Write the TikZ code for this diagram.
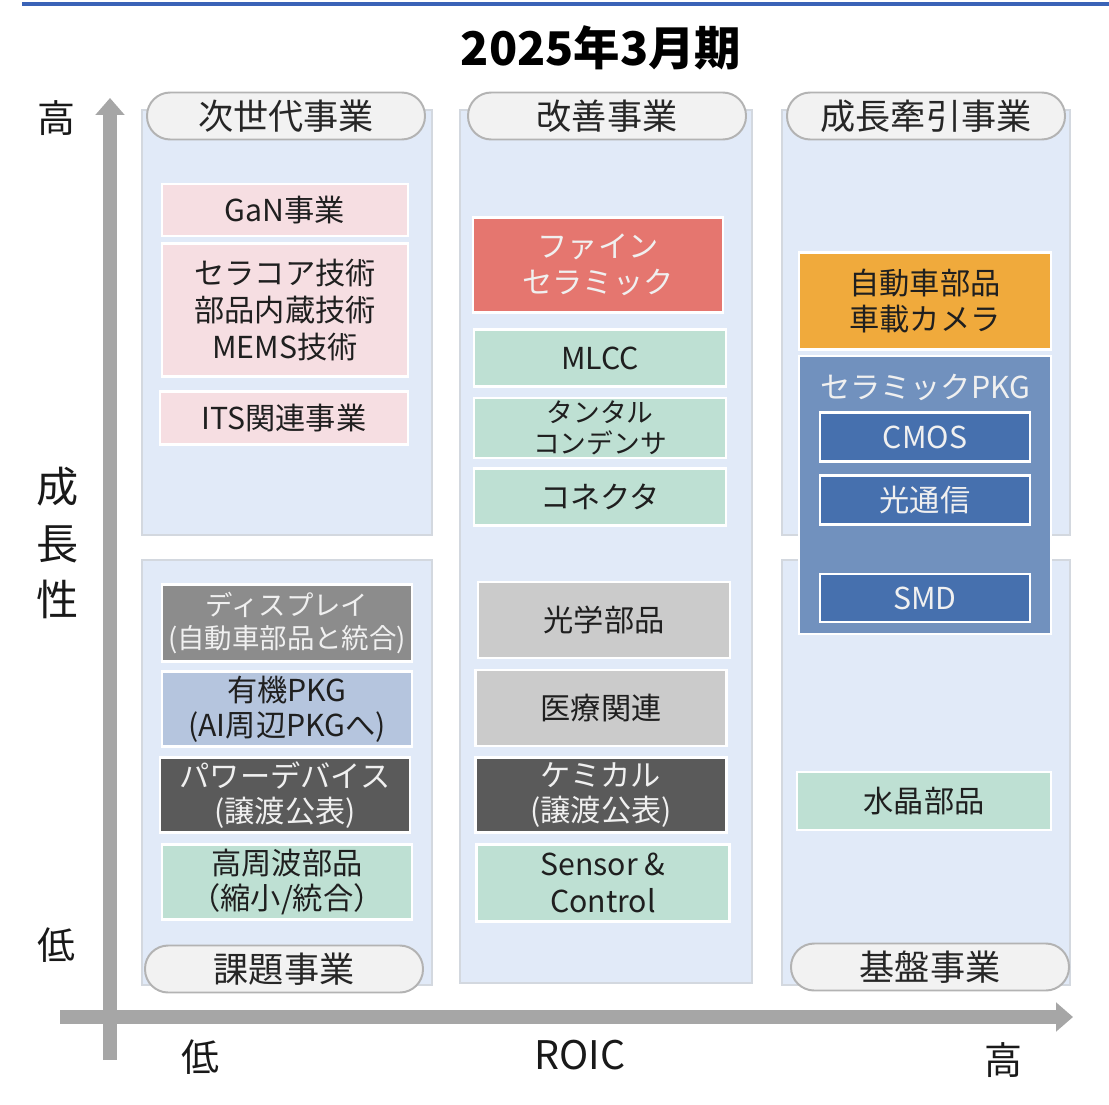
\documentclass[tikz,border=0pt]{standalone}
\usepackage{fontspec}
\newfontfamily\jpfont{Noto Sans CJK JP}
\usepackage{tikz}
\usetikzlibrary{arrows.meta}
\definecolor{panelblue}{HTML}{E1EAF8}
\definecolor{panelline}{HTML}{D3D8DF}
\definecolor{pillgray}{HTML}{F2F2F2}
\definecolor{pillline}{HTML}{B3B3B3}
\definecolor{axisgray}{HTML}{A6A6A6}
\definecolor{topblue}{HTML}{3A63B7}
\definecolor{pinkbox}{HTML}{F6DEE2}
\definecolor{mintbox}{HTML}{BEE0D3}
\definecolor{redbox}{HTML}{E5766F}
\definecolor{orangebox}{HTML}{F0AA3C}
\definecolor{pkgblue}{HTML}{7191BE}
\definecolor{cmosblue}{HTML}{4670AE}
\definecolor{midgray}{HTML}{8C8C8C}
\definecolor{darkgray}{HTML}{5A5A5A}
\definecolor{lightgray}{HTML}{CBCBCB}
\definecolor{slatebox}{HTML}{B5C5DE}
\newcommand{\pxu}{0.025cm}

\begin{document}
\jpfont
\begin{tikzpicture}[
  x=\pxu, y=-\pxu,
  panel/.style={fill=panelblue, draw=panelline, line width=1.4pt},
  pill/.style={fill=pillgray, draw=pillline, line width=1.4pt, rounded corners=0.58cm, minimum width=278*\pxu, minimum height=47*\pxu, inner sep=0pt, font=\fontsize{25}{29}\selectfont, text=black!85},
  item/.style 2 args={draw=white, line width=2pt, minimum width=#1*\pxu, minimum height=#2*\pxu, inner sep=0pt, align=center, text=black!88, font=\fontsize{21.5}{26}\selectfont},
  light/.style={text=white!94!black},
  axis/.style={-{Triangle[width=20pt,length=12pt]}, line width=10pt, draw=axisgray},
  lbl/.style={font=\fontsize{27}{32}\selectfont, text=black!90}
]
\useasboundingbox (0,0) rectangle (1109,1104);
\draw[topblue, line width=2.8pt] (22,4) -- (1109,4);
\node[font=\fontsize{33}{38}\selectfont\bfseries] (title) at (601,48) {2025年3月期};

\draw[panel] (142,110) rectangle (432,535);
\draw[panel] (142,560) rectangle (432,985);
\draw[panel] (460,110) rectangle (752,983);
\draw[panel] (782,110) rectangle (1070,535);
\draw[panel] (782,560) rectangle (1070,985);

\node[pill] (next) at (286,116) {次世代事業};
\node[pill] (kaizen) at (607,116) {改善事業};
\node[pill] (growth) at (926,116) {成長牽引事業};
\node[pill] (issue) at (284,969) {課題事業};
\node[pill] (base) at (930,967) {基盤事業};

\node[item={246}{52}, fill=pinkbox] (gan) at (285,210) {GaN事業};
\node[item={246}{133}, fill=pinkbox, font=\fontsize{21.5}{26.5}\selectfont] (ceracore) at (285,310) {セラコア技術\\部品内蔵技術\\MEMS技術};
\node[item={248}{53}, fill=pinkbox] (its) at (284,418) {ITS関連事業};
\node[item={250}{77}, fill=midgray, light, font=\fontsize{19.5}{24}\selectfont] (disp) at (287,623) {ディスプレイ\\(自動車部品と統合)};
\node[item={250}{75}, fill=slatebox, font=\fontsize{21.5}{25}\selectfont] (yuki) at (287,709) {有機PKG\\(AI周辺PKGへ)};
\node[item={250}{75}, fill=darkgray, light, font=\fontsize{21.5}{25}\selectfont] (power) at (285,795) {パワーデバイス\\(譲渡公表)};
\node[item={250}{75}, fill=mintbox, font=\fontsize{21.5}{25}\selectfont] (koshu) at (287,882) {高周波部品\\（縮小/統合）};

\node[item={250}{95}, fill=redbox, light, font=\fontsize{21.5}{25.5}\selectfont] (fine) at (598,265) {ファイン\\セラミック};
\node[item={252}{57}, fill=mintbox] (mlcc) at (600,358) {MLCC};
\node[item={252}{60}, fill=mintbox, font=\fontsize{19}{22}\selectfont] (tantal) at (600,428) {タンタル\\コンデンサ};
\node[item={252}{57}, fill=mintbox] (connector) at (600,497) {コネクタ};
\node[item={252}{76}, fill=lightgray] (kogaku) at (604,620) {光学部品};
\node[item={251}{76}, fill=lightgray] (iryo) at (601,708) {医療関連};
\node[item={251}{75}, fill=darkgray, light, font=\fontsize{21.5}{25}\selectfont] (chemical) at (601,795) {ケミカル\\(譲渡公表)};
\node[item={253}{77}, fill=mintbox, font=\fontsize{21.5}{26}\selectfont] (sensor) at (603,883) {Sensor \&\\Control};

\node[item={252}{97}, fill=orangebox, font=\fontsize{21.5}{25}\selectfont] (auto) at (925,301) {自動車部品\\車載カメラ};
\node[item={252}{278}, fill=pkgblue] (cpkg) at (925,495) {};
\node[light, font=\fontsize{21.5}{26}\selectfont] (cpkglabel) at (925,387) {セラミックPKG};
\node[item={210}{49}, fill=cmosblue, light] (cmos) at (925,437) {CMOS};
\node[item={210}{49}, fill=cmosblue, light] (hikari) at (925,500) {光通信};
\node[item={210}{48}, fill=cmosblue, light] (smd) at (925,598) {SMD};
\node[item={254}{58}, fill=mintbox] (suisho) at (924,801) {水晶部品};

\coordinate (ybot) at (110,1060);
\coordinate (ytop) at (110,98);
\coordinate (xleft) at (60,1017);
\coordinate (xright) at (1073,1017);
\draw[axis] (ybot) -- (ytop);
\draw[axis] (xleft) -- (xright);

\node[lbl] (yhigh) at (56,118) {高};
\node[lbl, font=\fontsize{30}{40}\selectfont, align=center] (yname) at (58,543) {成\\長\\性};
\node[lbl] (ylow) at (56,945) {低};
\node[lbl] (xlow) at (200,1057) {低};
\node[lbl, font=\fontsize{28}{32}\selectfont] (xname) at (580,1055) {ROIC};
\node[lbl] (xhigh) at (1003,1060) {高};
\end{tikzpicture}
\end{document}
